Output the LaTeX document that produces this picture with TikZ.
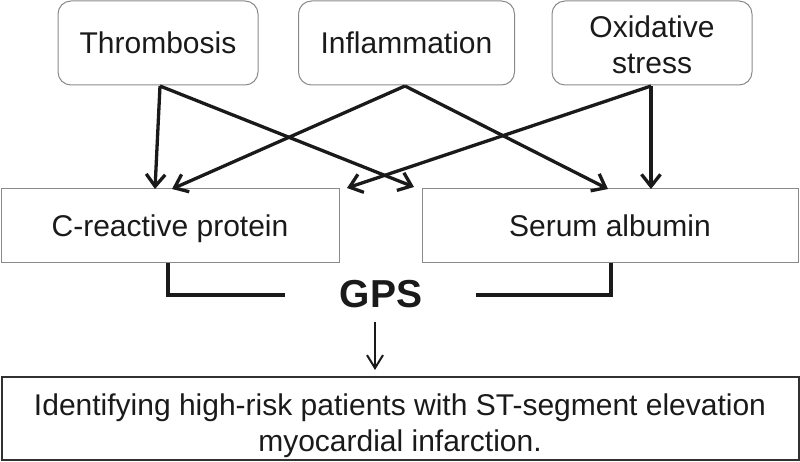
\documentclass[tikz,border=0pt]{standalone}
\usepackage{fontspec}
\setmainfont{Liberation Sans}
\usetikzlibrary{arrows.meta}
\definecolor{ink}{HTML}{1A1A1A}
\definecolor{boxgray}{HTML}{8A8A8A}
\tikzset{
  topbox/.style={draw=boxgray, line width=1pt, rounded corners=13pt, minimum height=84pt, align=center, font=\fontsize{30}{36}\selectfont, text=ink, inner sep=0pt},
  midbox/.style={draw=boxgray, line width=1pt, minimum height=74pt, font=\fontsize{30}{36}\selectfont, text=ink, inner sep=0pt, text depth=0pt},
  resbox/.style={draw=ink!90, line width=2pt, minimum height=83pt, align=center, font=\fontsize{30}{36}\selectfont, text=ink, inner sep=0pt, text height=66pt, text depth=0pt},
  link/.style={draw=ink, line width=3.3pt, -{Straight Barb[length=12pt,width=19pt,line width=3.3pt]}},
  bracket/.style={draw=ink, line width=4.5pt},
  thin/.style={draw=ink, line width=2pt, -{Straight Barb[length=13pt,width=16pt,line width=2pt]}}
}
\begin{document}
\begin{tikzpicture}[x=1pt,y=-1pt]
\useasboundingbox (0,0) rectangle (800,462);
\node[topbox, minimum width=200pt] (thr) at (158,43) {Thrombosis};
\node[topbox, minimum width=216pt] (inf) at (406.5,43) {Inflammation};
\node[topbox, minimum width=200pt, text height=62pt, text depth=0pt] (oxi) at (652,43) {Oxidative\\stress};
\node[midbox, minimum width=338pt] (crp) at (170,226) {C-reactive protein};
\node[midbox, minimum width=376pt] (sa) at (610,226) {Serum albumin};
\node[font=\fontsize{39}{40}\selectfont\bfseries, text=ink, inner sep=0pt] (gps) at (381,294) {GPS};
\node[resbox, minimum width=797pt] (res) at (400,418) {Identifying high-risk patients with ST-segment elevation\\myocardial infarction.};
% origins and targets
\coordinate (t0) at (160,86);
\coordinate (i0) at (405,86);
\coordinate (o0) at (651,86);
\coordinate (tc) at (155,189);
\coordinate (ts) at (414,187);
\coordinate (ic) at (172,189);
\coordinate (is) at (608,189);
\coordinate (oc) at (347,188);
\coordinate (os) at (651,189);
\draw[link] (t0) -- (tc);
\draw[link] (t0) -- (ts);
\draw[link] (i0) -- (ic);
\draw[link] (i0) -- (is);
\draw[link] (o0) -- (oc);
\draw[link] (o0) -- (os);
% brackets
\coordinate (bl) at (168,263);
\coordinate (blh) at (285,295);
\coordinate (br) at (611,263);
\coordinate (brh) at (476,295);
\draw[bracket] (bl) |- (blh);
\draw[bracket] (br) |- (brh);
\coordinate (ga) at (375,322);
\coordinate (gb) at (375,370);
\draw[thin] (ga) -- (gb);
\end{tikzpicture}
\end{document}
